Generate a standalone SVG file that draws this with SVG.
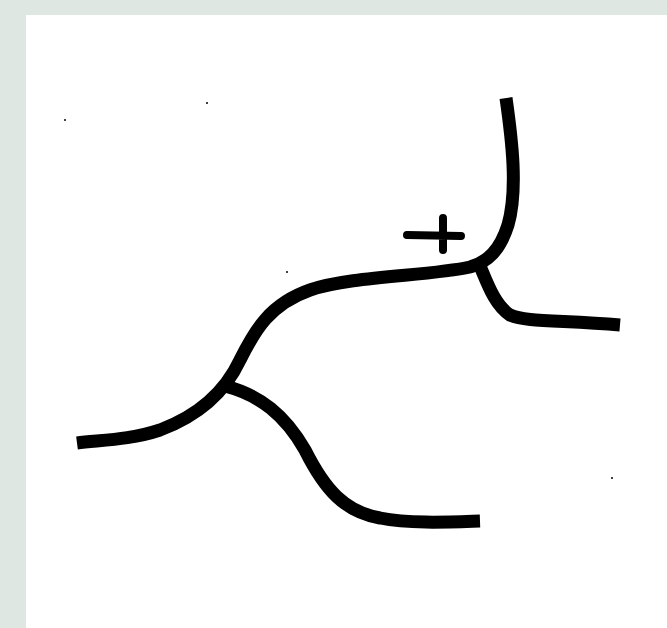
<svg xmlns="http://www.w3.org/2000/svg" width="667" height="628" viewBox="0 0 667 628">
<style>
.ln{fill:none;stroke:#000;stroke-width:13;stroke-linecap:butt;stroke-linejoin:round}
.pl{fill:none;stroke:#000;stroke-width:8;stroke-linecap:round}
.dot{fill:#000}
</style>
<rect x="0" y="0" width="667" height="628" fill="#dfe7e2"/>
<rect x="26" y="15" width="641" height="613" fill="#fff"/>
<g id="curves">
<path class="ln" d="M506,98 C512,140 518,190 508,225 C500,250 488,262 470,267 C430,276 350,276 310,290 C270,304 255,330 240,360 C225,392 200,415 160,430 C130,440 100,440 77,443"/>
<path class="ln" d="M480,266 C488,285 495,305 510,315 C525,322 560,320 620,325"/>
<path class="ln" d="M225,386 C260,395 285,415 305,450 C325,490 345,512 380,518 C410,524 450,522 480,521"/>
</g>
<g id="plus">
<path class="pl" d="M407,235 L461,236 M443,218 L443,250"/>
</g>
<g id="specks">
<circle class="dot" cx="65" cy="120" r="1"/>
<circle class="dot" cx="207" cy="103" r="1"/>
<circle class="dot" cx="287" cy="272" r="1"/>
<circle class="dot" cx="612" cy="478" r="1"/>
</g>
</svg>
